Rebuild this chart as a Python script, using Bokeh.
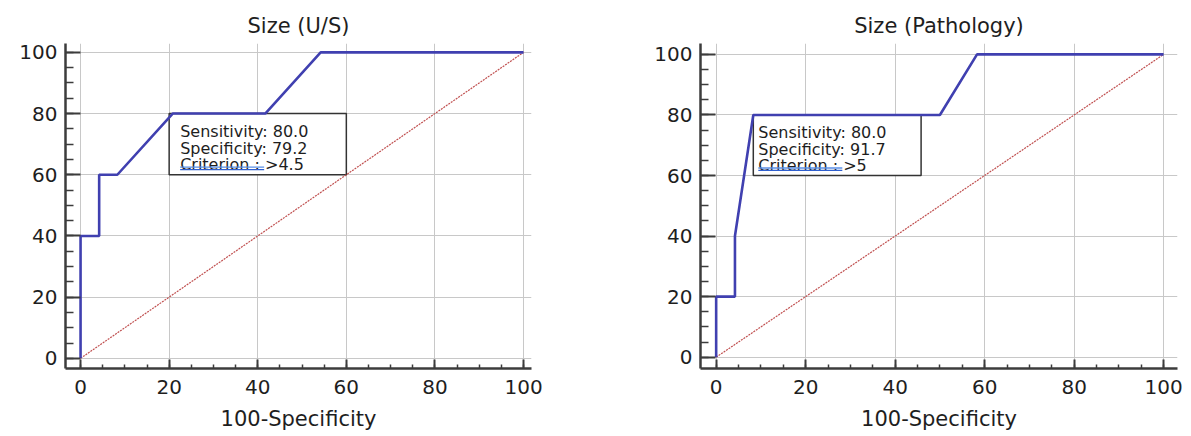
from bokeh.plotting import figure
from bokeh.layouts import row
from bokeh.models import SingleIntervalTicker, ColumnDataSource, Range1d
from bokeh.core.properties import value
from bokeh.embed import file_html
from bokeh.resources import INLINE

# ---------------- data ----------------
titles = ["Size (U/S)", "Size (Pathology)"]
x_label = "100-Specificity"

us_fpr = [0, 0, 4.2, 4.2, 8.3, 20.8, 41.7, 54.2, 100]
us_sens = [0, 40, 40, 60, 60, 80, 80, 100, 100]

path_fpr = [0, 0, 4.2, 4.2, 8.3, 50.0, 58.3, 100]
path_sens = [0, 20, 20, 40, 80, 80, 100, 100]

ref_x = [0, 100]
ref_y = [0, 100]

us_stats = ["Sensitivity: 80.0", "Specificity: 79.2", "Criterion : >4.5"]
path_stats = ["Sensitivity: 80.0", "Specificity: 91.7", "Criterion : >5"]

FONT = "DejaVu Sans"
CURVE = "#4040b0"
DIAG = "#c05050"
AXIS = "#3c3c3c"
GRID = "#c8c8c8"
TXT = "#1e1e1e"


def make_panel(title, fpr, sens, stats, width, borders, xr, yr, box, text_pad):
    bl, br, bt, bb = borders
    p = figure(width=width, height=436, x_range=Range1d(*xr), y_range=Range1d(*yr),
               output_backend="svg", toolbar_location=None,
               min_border_left=bl, min_border_right=br,
               min_border_top=bt, min_border_bottom=bb)
    p.outline_line_color = None
    p.background_fill_color = "white"
    p.border_fill_color = "white"

    p.title.text = title
    p.title.align = "center"
    p.title.text_font = FONT
    p.title.text_font_size = "21px"
    p.title.text_font_style = "normal"
    p.title.text_color = TXT
    p.title.standoff = 12

    for ax, tin, mtin in ((p.xaxis, 9, 4), (p.yaxis, 15, 8)):
        ax.ticker = SingleIntervalTicker(interval=20, num_minor_ticks=4)
        ax.axis_line_color = AXIS
        ax.axis_line_width = 2.5
        ax.major_tick_line_color = AXIS
        ax.major_tick_line_width = 2
        ax.minor_tick_line_color = AXIS
        ax.minor_tick_line_width = 1.5
        ax.major_tick_in = tin
        ax.major_tick_out = 0
        ax.minor_tick_in = mtin
        ax.minor_tick_out = 0
        ax.major_label_text_font = FONT
        ax.major_label_text_font_size = "20px"
        ax.major_label_text_color = TXT
    p.xaxis.major_label_standoff = 11
    p.yaxis.major_label_standoff = 8
    p.xaxis.axis_label = x_label
    p.xaxis.axis_label_text_font = FONT
    p.xaxis.axis_label_text_font_size = "21px"
    p.xaxis.axis_label_text_font_style = "normal"
    p.xaxis.axis_label_text_color = TXT
    p.xaxis.axis_label_standoff = 10

    p.xgrid.ticker = SingleIntervalTicker(interval=20)
    p.ygrid.ticker = SingleIntervalTicker(interval=20)
    p.xgrid.grid_line_color = GRID
    p.ygrid.grid_line_color = GRID
    p.xgrid.grid_line_width = 1
    p.ygrid.grid_line_width = 1

    # info box (white, covering grid)
    left, right, top, bottom = box
    p.quad(left=[left], right=[right], top=[top], bottom=[bottom],
           fill_color="white", line_color="#333333", line_width=1.5)

    # chance diagonal
    p.line(ref_x, ref_y, line_color=DIAG, line_width=1.2, line_dash="2 1")

    # stats text
    offsets = [18, 34.5, 51]
    src = ColumnDataSource(dict(x=[left] * len(stats), y=[top] * len(stats),
                                text=stats, yo=offsets[:len(stats)]))
    p.text(x="x", y="y", text="text", y_offset="yo", x_offset=text_pad, source=src,
           text_baseline="alphabetic", text_align="left",
           text_font=value(FONT), text_font_size="16px", text_color=TXT)

    # double blue underline under "Criterion :"
    fw = width - bl - br
    fh = 436 - bt - bb
    ux = (xr[1] - xr[0]) / fw
    uy = (yr[1] - yr[0]) / fh
    x0 = left + text_pad * ux
    x1 = x0 + 84 * ux
    for dy, col in ((3, "#5b8fe6"), (5.5, "#2f5fcf")):
        yy = top - (offsets[2] + dy) * uy
        p.segment(x0=[x0], y0=[yy], x1=[x1], y1=[yy], line_color=col, line_width=1.3)

    # ROC curve
    p.line(fpr, sens, line_color=CURVE, line_width=2.6)
    return p


p1 = make_panel(titles[0], us_fpr, us_sens, us_stats, 600, (65, 69, 43, 65),
                (-3.4, 101.8), (-3.33, 102.9), (20.0, 60.0, 80, 60), 11)
p2 = make_panel(titles[1], path_fpr, path_sens, path_stats, 591, (100, 14, 37, 68),
                (-3.5, 103.1), (-3.74, 103.6), (8.3, 45.8, 80, 60), 5)

layout = row(p1, p2)
open("out.html", "w").write(file_html(layout, INLINE))
